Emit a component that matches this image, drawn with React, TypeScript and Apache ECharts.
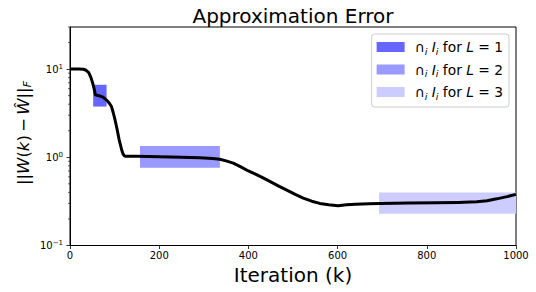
import React, { useEffect, useRef } from "react";
import * as echarts from "echarts";

const iterations = [0, 20, 30, 36, 42, 47, 51, 54, 57, 62, 68, 74, 80, 84, 89, 93, 97, 101, 105, 110, 116, 119, 122, 124, 150, 200, 250, 290, 320, 336, 350, 366, 383, 400, 417, 433, 449, 467, 486, 505, 523, 542, 560, 580, 601, 620, 640, 670, 695, 760, 822, 870, 912, 935, 957, 980, 1000];
const errors = [10, 10, 9.95, 9.7, 9.1, 8.0, 6.9, 6.0, 5.1, 5.02, 4.95, 4.8, 4.55, 4.35, 4.05, 3.76, 3.2, 2.65, 2.15, 1.6, 1.21, 1.09, 1.04, 1.03, 1.025, 1.015, 1.0, 0.99, 0.97, 0.95, 0.91, 0.86, 0.78, 0.7, 0.64, 0.585, 0.53, 0.475, 0.425, 0.38, 0.345, 0.318, 0.3, 0.289, 0.282, 0.289, 0.294, 0.298, 0.3, 0.303, 0.305, 0.308, 0.313, 0.322, 0.338, 0.358, 0.38];

const boxNames = ["L1", "L2", "L3"];
const boxLevels = ["1", "2", "3"];
const boxX0 = [52, 157, 693];
const boxX1 = [82, 336, 1000];
const boxYLow = [3.76, 0.76, 0.229];
const boxYHigh = [6.64, 1.34, 0.4];
const boxColors = ["rgb(102,102,255)", "rgb(153,153,255)", "rgb(204,204,255)"];

const minorTickValues = [0.2, 0.3, 0.4, 0.5, 0.6, 0.7, 0.8, 0.9, 2, 3, 4, 5, 6, 7, 8, 9, 20, 30];

const FONT = "DejaVu Sans";

export default function App() {
  const ref = useRef<HTMLDivElement>(null);
  useEffect(() => {
    if (!ref.current) return;
    const chart = echarts.init(ref.current, undefined, { renderer: "svg" });
    const boxSeries = boxNames.map((name, i) => ({
      type: "custom",
      name,
      coordinateSystem: "cartesian2d",
      itemStyle: { color: boxColors[i] },
      z: 1,
      data: [[boxX0[i], boxYLow[i], boxX1[i], boxYHigh[i]]],
      encode: { x: [0, 2], y: [1, 3] },
      renderItem: (params: any, api: any) => {
        const p0 = api.coord([api.value(0), api.value(3)]);
        const p1 = api.coord([api.value(2), api.value(1)]);
        return {
          type: "rect",
          shape: { x: p0[0], y: p0[1], width: p1[0] - p0[0], height: p1[1] - p0[1] },
          style: { fill: boxColors[i] },
        };
      },
    }));
    const option: any = {
      animation: false,
      grid: { left: 70, right: 20, top: 27, bottom: 46.5, show: true, borderColor: "#000", borderWidth: 1, backgroundColor: "transparent" },
      legend: {
        data: boxNames,
        orient: "vertical",
        right: 27,
        top: 34,
        backgroundColor: "#fff",
        borderColor: "#cccccc",
        borderWidth: 1,
        borderRadius: 3,
        padding: [6, 6, 6, 5],
        itemWidth: 28,
        itemHeight: 10,
        itemGap: 6.5,
        icon: "rect",
        formatter: (name: string) => {
          const i = boxNames.indexOf(name);
          return `{n|∩}{s|i} {it|I}{s|i}{n| for }{it|L}{n| = ${boxLevels[i]}}`;
        },
        textStyle: {
          fontFamily: FONT,
          fontSize: 13.8,
          color: "#000",
          padding: [0, 0, 0, 5],
          rich: {
            n: { fontFamily: FONT, fontSize: 13.8, color: "#000", lineHeight: 18 },
            it: { fontFamily: FONT, fontSize: 13.8, fontStyle: "italic", color: "#000", lineHeight: 18 },
            s: { fontFamily: FONT, fontSize: 9.5, fontStyle: "italic", color: "#000", verticalAlign: "bottom", lineHeight: 14 },
          },
        },
      },
      xAxis: {
        type: "value",
        min: 0,
        max: 1000,
        interval: 200,
        axisLine: { show: true, lineStyle: { color: "#000", width: 1 } },
        axisTick: { show: true, length: 3.5, lineStyle: { color: "#000", width: 0.8 } },
        splitLine: { show: false },
        axisLabel: { fontFamily: FONT, fontSize: 10, color: "#000", margin: 5, formatter: (v: number) => String(v) },
      },
      yAxis: {
        type: "log",
        logBase: 10,
        min: 0.1,
        max: 30,
        axisLine: { show: true, lineStyle: { color: "#000", width: 1 } },
        axisTick: { show: true, length: 3.5, lineStyle: { color: "#000", width: 0.8 } },
        splitLine: { show: false },
        minorTick: { show: false },
        axisLabel: {
          fontFamily: FONT,
          fontSize: 10,
          color: "#000",
          margin: 7,
          showMaxLabel: false,
          formatter: (v: number) => {
            const l = Math.log10(v);
            const e = Math.round(l);
            if (Math.abs(l - e) > 1e-6) return "";
            return `{b|10}{s|${e < 0 ? "−" + -e : e}}`;
          },
          rich: {
            b: { fontFamily: FONT, fontSize: 10, color: "#000", lineHeight: 12 },
            s: { fontFamily: FONT, fontSize: 7, color: "#000", verticalAlign: "top", lineHeight: 8 },
          },
        },
      },
      series: [
        ...boxSeries,
        {
          type: "custom",
          name: "minor",
          coordinateSystem: "cartesian2d",
          clip: false,
          silent: true,
          z: 5,
          data: minorTickValues.map((v) => [0, v]),
          renderItem: (params: any, api: any) => {
            const p = api.coord([0, api.value(1)]);
            return {
              type: "line",
              shape: { x1: p[0] - 2, y1: p[1], x2: p[0], y2: p[1] },
              style: { stroke: "#000", lineWidth: 0.6 },
            };
          },
        },
        {
          type: "line",
          name: "error",
          z: 3,
          showSymbol: false,
          symbol: "none",
          lineStyle: { color: "#000", width: 3, join: "round" },
          data: iterations.map((x, i) => [x, errors[i]]),
        },
      ],
      graphic: [
        {
          type: "text",
          x: 293,
          y: 15.5,
          style: { text: "Approximation Error", fontFamily: FONT, fontSize: 20, fill: "#000", align: "center", verticalAlign: "middle" },
        },
        {
          type: "text",
          x: 293,
          y: 275,
          style: { text: "Iteration (k)", fontFamily: FONT, fontSize: 20, fill: "#000", align: "center", verticalAlign: "middle" },
        },
        {
          type: "text",
          x: 23,
          y: 133,
          rotation: Math.PI / 2,
          style: {
            text: "{a|||}{i|W}{a|(}{i|k}{a|)\u2009−\u2009}{i|Ŵ}{a|||}{f|F}",
            align: "center",
            verticalAlign: "middle",
            rich: {
              a: { fontFamily: FONT, fontSize: 16.5, fill: "#000", lineHeight: 20 },
              i: { fontFamily: FONT, fontSize: 16.5, fontStyle: "italic", fill: "#000", lineHeight: 20 },
              f: { fontFamily: FONT, fontSize: 11, fontStyle: "italic", fill: "#000", verticalAlign: "bottom", lineHeight: 15 },
            },
          },
        },
      ],
    };
    chart.setOption(option);
    return () => chart.dispose();
  }, []);
  return <div ref={ref} style={{ width: 536, height: 292, position: "absolute", left: 0, top: 0 }} />;
}
